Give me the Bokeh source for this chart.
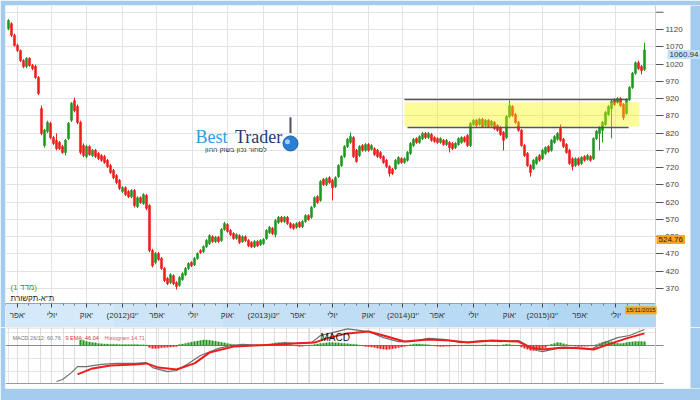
from bokeh.plotting import figure
from bokeh.layouts import column
from bokeh.models import Range1d, FixedTicker, Label, Span, Grid, ColumnDataSource
from bokeh.embed import file_html
from bokeh.resources import INLINE

# ---------------- data (weekly candles, TA-Telecom index) ----------------
opens = [1123,1137,1103,1074,1059,1030,1013,1036,1016,1013,
         981,891,784,825,848,807,799,793,781,764,
         804,857,914,897,851,784,752,781,755,770,
         761,755,752,741,726,712,697,683,651,662,
         651,636,654,607,633,616,639,610,480,445,
         471,457,428,399,387,407,387,379,396,410,
         428,445,439,457,480,477,491,500,520,506,
         518,509,541,555,538,529,515,523,506,520,
         509,503,491,506,497,500,515,532,544,526,
         561,576,564,576,558,555,547,561,549,564,
         581,576,607,636,625,686,671,691,683,665,
         694,726,752,781,793,807,770,755,784,770,
         787,773,775,770,764,752,741,723,715,717,
         732,746,735,741,761,784,804,793,804,819,
         807,816,807,804,793,799,787,793,790,778,
         787,793,807,813,784,845,857,845,860,842,
         857,842,851,842,836,822,807,868,897,874,
         851,828,784,761,726,717,732,755,746,761,
         781,770,793,802,833,802,787,770,746,726,
         746,732,752,744,752,746,804,819,828,845,
         874,891,917,909,920,903,877,917,952,993,
         1024,1013,1004]
closes = [1146,1103,1074,1059,1030,1013,1036,1016,1007,981,
          935,819,828,851,807,790,775,775,764,799,
          848,906,885,851,764,755,781,758,770,752,
          746,741,735,723,706,691,677,660,662,642,
          636,654,610,633,619,642,602,480,436,471,
          454,428,393,384,410,384,376,402,413,428,
          442,436,457,471,474,491,509,523,506,518,
          506,541,558,535,526,515,526,503,520,509,
          494,491,506,494,509,512,538,547,529,567,
          576,564,576,558,547,544,558,549,564,581,
          570,605,633,619,680,671,688,677,662,691,
          726,752,781,802,810,752,738,781,770,787,
          770,784,758,752,749,735,723,703,703,741,
          749,735,746,764,790,802,793,810,819,807,
          819,799,796,793,804,787,799,778,775,790,
          804,807,796,784,848,857,842,860,839,857,
          839,854,833,828,816,799,868,900,871,851,
          828,784,755,726,706,741,749,741,770,778,
          767,799,810,819,799,781,764,732,723,746,
          729,749,741,755,741,804,825,836,851,880,
          897,912,903,920,900,865,917,952,993,1024,
          1007,1001,1060.94]
highs = [1150,1141,1108,1079,1062,1034,1040,1040,1020,1018,
         985,900,832,856,853,812,819,797,786,803,
         852,910,923,903,856,790,786,785,774,774,
         765,759,757,745,731,716,701,687,667,666,
         655,658,658,637,637,646,644,614,485,476,
         476,461,432,403,414,411,391,406,417,432,
         446,449,461,475,484,495,513,527,524,522,
         522,545,563,559,542,533,530,527,524,524,
         513,507,510,510,513,516,542,551,548,571,
         580,580,580,580,562,559,562,565,568,585,
         585,609,637,640,684,690,692,695,687,695,
         730,756,785,806,822,811,774,785,788,791,
         791,788,779,774,768,756,745,727,719,745,
         753,750,750,768,794,806,808,814,823,823,
         823,820,811,808,808,803,803,797,794,794,
         808,811,811,817,852,861,861,864,864,861,
         861,858,855,846,840,826,872,914,901,878,
         855,832,788,765,730,745,753,759,774,782,
         785,803,814,823,845,806,791,774,750,750,
         750,753,756,759,756,808,829,840,855,884,
         901,916,921,924,924,907,921,956,997,1028,
         1030,1017,1082]
lows = [1118,1098,1070,1055,1026,1008,1008,1012,1002,977,
        930,814,778,820,802,786,770,771,760,755,
        800,852,880,846,758,750,747,754,751,748,
        742,737,731,719,702,686,672,655,646,638,
        632,631,605,603,615,612,597,475,431,440,
        450,424,389,380,383,380,367,375,392,406,
        424,432,435,453,470,473,487,496,502,502,
        502,505,537,531,522,511,511,499,502,505,
        490,487,487,490,493,496,511,528,525,518,
        557,560,560,554,543,540,543,545,545,560,
        566,572,603,615,621,667,667,673,625,661,
        690,722,748,777,789,748,734,751,766,766,
        766,769,754,748,745,731,719,694,699,713,
        728,731,731,737,757,780,789,789,800,803,
        803,795,792,789,789,783,783,764,771,774,
        783,789,792,780,780,841,838,841,835,838,
        835,838,829,824,812,770,803,864,867,847,
        824,780,751,722,694,713,728,737,742,757,
        763,766,789,798,795,777,760,728,712,722,
        725,728,737,740,737,742,800,770,793,841,
        870,805,899,905,896,858,873,913,948,989,
        1003,990,1000]

ref_price = 524.76
end_date = "15/11/2015"

# x-axis (candle index of each quarterly label)
xtick_pos = [3, 14.5, 26, 38, 49.5, 61.5, 73, 85, 96.5, 108, 120, 131.5,
             143, 155, 167, 178, 190.5, 202.5]
xtick_labels = ["אפר'", "יולי", "אוק'", "(2012)ינו'", "אפר'", "יולי", "אוק'",
                "(2013)ינו'", "אפר'", "יולי", "אוק'", "(2014)ינו'", "אפר'",
                "יולי", "אוק'", "(2015)ינו'", "אפר'", "יולי"]
ytick_vals = [370, 420, 470, 520, 570, 620, 670, 720, 770, 820, 870, 920,
              970, 1020, 1070, 1120]

# resistance zone
zone_top, zone_bottom = 909, 839
zone_start, zone_end = 132, 210.3
res_line, sup_line = 917, 836
line_start, line_end = 132, 206.7

# MACD panel
macd_x = [16, 18, 21, 23, 26, 31, 36, 42, 46, 48, 53, 56, 60, 64, 70, 74, 78,
          86, 92, 95, 101, 104, 108, 113, 120, 125, 130, 134, 140, 145, 151,
          158, 164, 170, 173, 176, 178, 183, 190, 194, 198, 203, 207, 212]
macd_v = [-137, -129, -103, -80, -80, -72, -68, -68, -65, -84, -99, -95, -68,
          -38, -11, 0, 4, 0, 11, 8, 11, 38, 49, 63, 53, 30, 15, 15, 27, 23, 11,
          19, 15, 19, 0, -19, -23, -11, -11, -15, 8, 30, 38, 60.76]
sig_x = [23, 28, 34, 42, 46, 50, 56, 62, 67, 75, 82, 90, 95, 102, 106, 113,
         120, 125, 132, 140, 147, 153, 161, 170, 174, 178, 185, 192, 195, 201,
         206, 212]
sig_v = [-110, -87, -76, -72, -68, -84, -91, -68, -27, -4, 0, 4, 8, 11, 27, 46,
         53, 38, 15, 23, 19, 11, 19, 15, -8, -15, -8, -11, -15, 8, 27, 46.04]
hist_start = 24
hist_v = [21, 19,
          15, 13, 11, 10,
          8, 7, 6, 6, 5, 5, 5, 4, 4, 4, 4, 4, 4, 4, 3, 3, 2,
          -8, -11, -11, -10, -9, -8, -7, -6, -5, -4,
          4, 6, 8, 10, 13, 15, 17, 19, 21, 21, 20, 18, 16, 14, 12, 10, 8, 6, 4,
          2, 1, 1, -1, 1, 2, 1, 1, 2, 3, 4,
          6, 8, 10, 11, 10, 9, 7, 5,
          2, -2, -4, -3, -1,
          1, 2, 4, 6, 8,
          9, 10, 11, 11, 10, 10, 9, 8, 7, 6,
          5, 4, 2,
          -2, -4, -5, -6, -8, -10, -12, -14, -15, -14, -12, -10, -8, -6, -4, -2,
          3, 5, 6, 6, 5, 4, 3, 1,
          -2, -3, -4, -4, -3, -3, -2, -2, -1, -1,
          1, 2, 2, 1, -1, 1, 2, 3, 2, 1, -1, -2, 1, 3, 5, 4, 2, 1, -1,
          -6, -10, -14, -18, -19, -17, -14, -11, -8,
          2, 5, 8, 11, 10, 7, 4, 2,
          -2, -3, -4, -4, -3, -3, -2, -1,
          4, 8, 12, 15, 15, 14, 12, 9, 8, 9, 11, 13, 14, 15, 15, 15, 14.71]

# ---------------- styling / layout constants ----------------
GREEN = "#1f961f"
RED = "#ee1c1c"
GRID = "#e3e3e3"
FONT = "Liberation Sans"
BAND_COLORS = ["#d4e9f9", "#cde5f7", "#c6e1f6", "#bfdef5", "#b8daf4", "#b2d7f3"]
FRAME_BLUE = "#a3cbee"

X0, X1 = -1, 230.67       # full canvas width (incl. label strip at right)
X_EDGE = 215.67           # right edge of the chart area
X_STRIP = 227.33          # start of the blue frame strip at the far right
TICK_LEN = 2.67           # 8 px tick marks, in index units
Y0, Y1 = 257.0, 1189.5    # main figure vertical range (incl. date band)
BAND_TOP = 326.5
M0, M1 = -163.4, 68.4     # MACD vertical range (incl. white strip below)
M_BOTTOM = -144.4         # bottom edge of the MACD panel

# ---------------- main price figure ----------------
p = figure(width=700, height=327, x_range=Range1d(X0, X1),
           y_range=Range1d(Y0, Y1), output_backend="svg",
           toolbar_location=None, y_axis_location="right",
           min_border_left=5, min_border_top=5, min_border_right=0,
           min_border_bottom=0)
p.background_fill_color = "white"
p.border_fill_color = FRAME_BLUE
p.outline_line_color = None

idx = list(range(len(closes)))
cols = [GREEN if c >= o else RED for o, c in zip(opens, closes)]
src = ColumnDataSource(dict(x=idx, o=opens, c=closes, h=highs, l=lows,
                            top=[max(o, c) for o, c in zip(opens, closes)],
                            bot=[min(o, c) for o, c in zip(opens, closes)],
                            col=cols))
p.segment(x0="x", y0="l", x1="x", y1="h", line_color="col", line_width=1, source=src)
p.vbar(x="x", width=0.72, top="top", bottom="bot", fill_color="col",
       line_color="col", line_width=0.5, source=src)

# resistance zone
p.quad(left=[zone_start], right=[zone_end], top=[zone_top], bottom=[zone_bottom],
       fill_color="#f5f500", fill_alpha=0.4, line_alpha=0)
p.segment(x0=[line_start, line_start + 1], y0=[res_line, sup_line],
          x1=[line_end, line_end], y1=[res_line, sup_line],
          line_color="#555555", line_width=1.5)

# date band (light gradient), white label strip, blue frame strip
nb = len(BAND_COLORS)
bw = (X_EDGE - X0) / nb
p.quad(left=[X0 + k * bw for k in range(nb)],
       right=[X0 + (k + 1) * bw + 0.05 for k in range(nb)],
       top=[BAND_TOP] * nb, bottom=[Y0] * nb,
       fill_color=BAND_COLORS, line_alpha=0)
p.quad(left=[X_EDGE], right=[X_STRIP], top=[Y1], bottom=[Y0],
       fill_color="white", line_alpha=0)
p.quad(left=[X_STRIP], right=[X1], top=[Y1], bottom=[Y0],
       fill_color=FRAME_BLUE, line_alpha=0)
p.segment(x0=[X0], y0=[BAND_TOP], x1=[X_EDGE], y1=[BAND_TOP],
          line_color="#8fa7b8", line_width=1)
p.segment(x0=[X_EDGE], y0=[1170], x1=[X_EDGE + TICK_LEN], y1=[1170],
          line_color="#555555", line_width=1)
p.add_layout(Span(location=X_EDGE, dimension="height", line_color="#cfcfcf",
                  line_width=1))

# axes
month_ticks = []
for a, b in zip(xtick_pos, xtick_pos[1:]):
    month_ticks += [a + (b - a) / 3, a + 2 * (b - a) / 3]
step = xtick_pos[-1] - xtick_pos[-2]
month_ticks += [xtick_pos[-1] + step / 3, xtick_pos[-1] + 2 * step / 3,
                xtick_pos[0] - step / 3]

xa = p.xaxis[0]
xa.fixed_location = BAND_TOP
xa.ticker = FixedTicker(ticks=xtick_pos, minor_ticks=month_ticks)
xa.major_label_overrides = {t: l for t, l in zip(xtick_pos, xtick_labels)}
xa.major_label_text_font_size = "8px"
xa.major_label_text_font = FONT
xa.major_label_text_color = "#333333"
xa.major_label_standoff = 3
xa.major_tick_out = 4
xa.major_tick_in = 0
xa.minor_tick_out = 2
xa.minor_tick_in = 0
xa.major_tick_line_color = "#444444"
xa.minor_tick_line_color = "#777777"
xa.axis_line_color = None

ya = p.yaxis[0]
ya.fixed_location = X_EDGE
ya.ticker = FixedTicker(ticks=ytick_vals)
ya.major_label_text_font_size = "8px"
ya.major_label_text_font = FONT
ya.major_label_text_color = "#444444"
ya.major_tick_out = 8
ya.major_tick_in = 0
ya.minor_tick_out = 0
ya.minor_tick_in = 0
ya.major_label_standoff = 2
ya.axis_line_color = None
ya.major_tick_line_color = "#555555"

p.xgrid.grid_line_color = GRID
p.ygrid.grid_line_color = GRID
p.ygrid.ticker = FixedTicker(ticks=ytick_vals + [1170])


def lab(fig, x, y, text, size, color, font=FONT, align="left", base="alphabetic",
        bg=None, pad=2):
    l = Label(x=x, y=y, text=text, text_font_size=size, text_color=color,
              text_font=font, text_align=align, text_baseline=base)
    if bg is not None:
        l.background_fill_color = bg
        try:
            l.padding = pad
        except Exception:
            pass
    fig.add_layout(l)
    return l


lab(p, 0.7, 374, "(מדד 1)", "8px", "#3c9a3c")
lab(p, 0.7, 341, "ת\"א-תקשורת", "8px", "#222222")

# logo
lab(p, 62.3, 810, "Best", "18px", "#2f9de4", font="Liberation Serif")
lab(p, 75.5, 810, "Trader", "18px", "#1d3a78", font="Liberation Serif")
lab(p, 65.5, 772, "לסחור נכון בשוק ההון", "7px", "#333333")
p.segment(x0=[94.0], y0=[820], x1=[94.0], y1=[866], line_color="#4a5060", line_width=2)
p.scatter(x=[94.0], y=[790], size=15, fill_color="#2b7fd0", line_color="#1b5fa8")
p.scatter(x=[93.0], y=[795], size=5, fill_color="#9fd0ff", line_alpha=0)

# value labels
lab(p, 219.7, closes[-1], f"{closes[-1]:.2f}", "8px", "#333333",
    base="top", bg="#bfe2f8")
lab(p, 216.0, ref_price, f"{ref_price:.2f}", "8px", "#222222",
    base="top", bg="#f9a51f")
lab(p, X_EDGE + 0.4, 318.5, end_date, "6px", "#222222", align="right",
    base="top", bg="#f9a51f", pad=1)

# ---------------- MACD figure ----------------
pm = figure(width=700, height=73, x_range=p.x_range, y_range=Range1d(M0, M1),
            output_backend="svg", toolbar_location=None, x_axis_location=None,
            y_axis_location=None, min_border_left=5, min_border_right=0,
            min_border_top=0, min_border_bottom=12)
pm.background_fill_color = "white"
pm.border_fill_color = FRAME_BLUE
pm.outline_line_color = None
pm.add_layout(Grid(dimension=0, ticker=FixedTicker(ticks=sorted(xtick_pos + month_ticks)),
                   grid_line_color="#dcdcdc"))

# hide grid below the panel and right of it
pm.quad(left=[X0], right=[X_EDGE], top=[M_BOTTOM], bottom=[M0],
        fill_color="white", line_alpha=0)
pm.quad(left=[X_EDGE], right=[X_STRIP], top=[M1], bottom=[M0],
        fill_color="white", line_alpha=0)
pm.quad(left=[X_STRIP], right=[X1], top=[M1], bottom=[M0],
        fill_color=FRAME_BLUE, line_alpha=0)
pm.segment(x0=[X0, X0, X0], y0=[0, M_BOTTOM, 67.0],
           x1=[X_EDGE + TICK_LEN, X_EDGE + TICK_LEN, X_EDGE],
           y1=[0, M_BOTTOM, 67.0], line_color=["#8a8a8a", "#9a9a9a", "#cfcfcf"],
           line_width=1)
pm.segment(x0=[X_EDGE], y0=[M_BOTTOM], x1=[X_EDGE], y1=[M1],
           line_color="#cfcfcf", line_width=1)
hx = list(range(hist_start, hist_start + len(hist_v)))
hcol = [GREEN if v >= 0 else RED for v in hist_v]
pm.vbar(x=hx, top=hist_v, bottom=0, width=0.6, fill_color=hcol, line_color=hcol,
        line_width=0.3)
pm.line(macd_x, macd_v, line_color="#6e6e6e", line_width=1.2)
pm.line(sig_x, sig_v, line_color="#ee1c1c", line_width=2)

lab(pm, 1.3, 30.4, f"MACD 26/12: {macd_v[-1]:.2f}", "5.5px", "#777777")
lab(pm, 19.0, 30.4, f"9 EMA: {sig_v[-1]:.2f}", "5.5px", "#e03030")
lab(pm, 32.0, 30.4, f"Histogram {hist_v[-1]:.2f}", "5.5px", "#e06060")
lab(pm, 104, 30.4, "MACD", "10px", "#111111")

layout = column(p, pm)
open("out.html", "w").write(file_html(layout, INLINE))
